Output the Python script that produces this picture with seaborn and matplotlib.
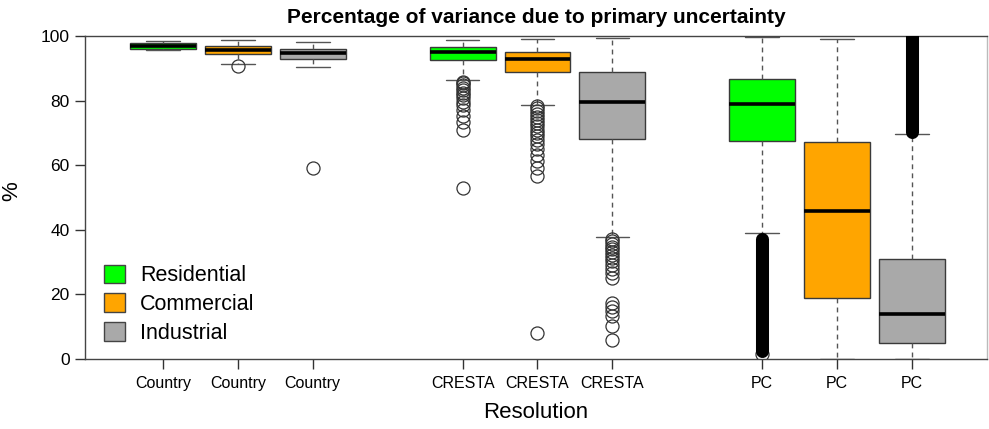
import matplotlib
matplotlib.use("Agg")
import matplotlib.pyplot as plt
from matplotlib.patches import Patch
import seaborn as sns

sns.set_theme(style="ticks")
plt.rcParams["font.family"] = ["Liberation Sans", "DejaVu Sans"]
plt.rcParams["text.color"] = "black"
plt.rcParams["axes.labelcolor"] = "black"

# Box-plot summaries (percent of variance) per resolution and line of business
resolutions = ["Country", "Country", "Country",
               "CRESTA", "CRESTA", "CRESTA",
               "PC", "PC", "PC"]
classes = ["Residential", "Commercial", "Industrial"] * 3
positions = [1, 2, 3, 5, 6, 7, 9, 10, 11]

q1 = [95.9, 94.5, 93.0, 92.6, 88.7, 68.1, 67.5, 19.0, 4.9]
median = [96.9, 95.8, 94.8, 95.0, 92.9, 79.7, 79.0, 45.9, 13.8]
q3 = [97.7, 97.0, 95.9, 96.7, 95.0, 88.9, 86.7, 67.3, 31.0]
whisker_low = [95.8, 91.4, 90.5, 86.3, 78.7, 37.9, 38.9, 0.0, 0.0]
whisker_high = [98.5, 98.9, 98.2, 98.9, 99.1, 99.5, 99.8, 99.2, 69.8]

outliers = [
    [],
    [90.8],
    [59.1],
    [85.9, 85.3, 84.7, 84.0, 83.3, 82.5, 81.6, 80.8, 79.6, 78.6,
     77.1, 75.2, 73.3, 71.0, 52.8],
    [78.4, 77.6, 76.8, 75.9, 75.0, 74.0, 73.0, 72.0, 71.0, 70.0,
     69.0, 67.8, 66.5, 65.0, 63.2, 61.4, 59.2, 56.8, 7.9],
    [37.2, 36.4, 35.6, 34.8, 34.0, 33.1, 32.2, 31.2, 30.2, 29.0,
     27.8, 26.6, 25.2, 17.2, 16.2, 15.0, 13.4, 10.3, 5.9],
    [1.6],
    [],
    [],
]

# Ranges packed so densely with outliers that they merge into a solid band
dense_outlier_ranges = {9: (2.6, 37.2), 11: (70.3, 101.0)}

class_colors = {"Residential": "#00FF00",
                "Commercial": "#FFA500",
                "Industrial": "#A9A9A9"}

fig = plt.figure(figsize=(9.89, 4.29), dpi=100)
ax = fig.add_axes([0.0859, 0.1632, 0.9121, 0.7529])

stats = []
for i in range(len(positions)):
    stats.append(dict(med=median[i], q1=q1[i], q3=q3[i],
                      whislo=whisker_low[i], whishi=whisker_high[i],
                      fliers=outliers[i], label=resolutions[i]))

edge = "#3a3a3a"
bp = ax.bxp(stats, positions=positions, widths=0.88, capwidths=0.45,
            patch_artist=True, showfliers=True,
            boxprops=dict(edgecolor=edge, linewidth=1.0),
            medianprops=dict(color="black", linewidth=2.6, solid_capstyle="butt"),
            whiskerprops=dict(color="#555555", linewidth=1.0,
                              linestyle=(0, (3.5, 3))),
            capprops=dict(color="#555555", linewidth=1.0),
            flierprops=dict(marker="o", markersize=9.4, markerfacecolor="none",
                            markeredgecolor="#333333", markeredgewidth=0.9,
                            linestyle="none"))
for box, cls in zip(bp["boxes"], classes):
    box.set_facecolor(class_colors[cls])

for pos, (lo, hi) in dense_outlier_ranges.items():
    ax.plot([pos, pos], [lo, hi], color="black", linewidth=9.4,
            solid_capstyle="round", zorder=3)

ax.set_xlim(-0.04, 12.0)
ax.set_ylim(0, 100)
ax.set_yticks([0, 20, 40, 60, 80, 100])
ax.set_xticks(positions)
ax.set_xticklabels(resolutions)
ax.tick_params(axis="y", labelsize=12.5, length=7, width=1.0, pad=4,
               colors="#333333", labelcolor="black")
ax.tick_params(axis="x", labelsize=11.5, length=7, width=1.0, pad=5,
               colors="#333333", labelcolor="black")
for side in ["left", "right", "top", "bottom"]:
    ax.spines[side].set_visible(True)
    ax.spines[side].set_color("#444444")
    ax.spines[side].set_linewidth(1.0)
ax.spines["right"].set_color("#bbbbbb")

ax.set_title("Percentage of variance due to primary uncertainty",
             fontsize=15, fontweight="bold", pad=9)
ax.set_xlabel("Resolution", fontsize=16, labelpad=8)
ax.set_ylabel("%", fontsize=16)
ax.yaxis.set_label_coords(-0.07, 0.52)

handles = [Patch(facecolor=class_colors[c], edgecolor="#444444", linewidth=1.0,
                 label=c) for c in ["Residential", "Commercial", "Industrial"]]
ax.legend(handles=handles, loc="lower left", bbox_to_anchor=(0.012, 0.02),
          frameon=False, fontsize=15.5, handlelength=0.95, handleheight=0.95,
          handletextpad=0.7, labelspacing=0.33, borderaxespad=0)

fig.savefig("out.png", dpi=100)
